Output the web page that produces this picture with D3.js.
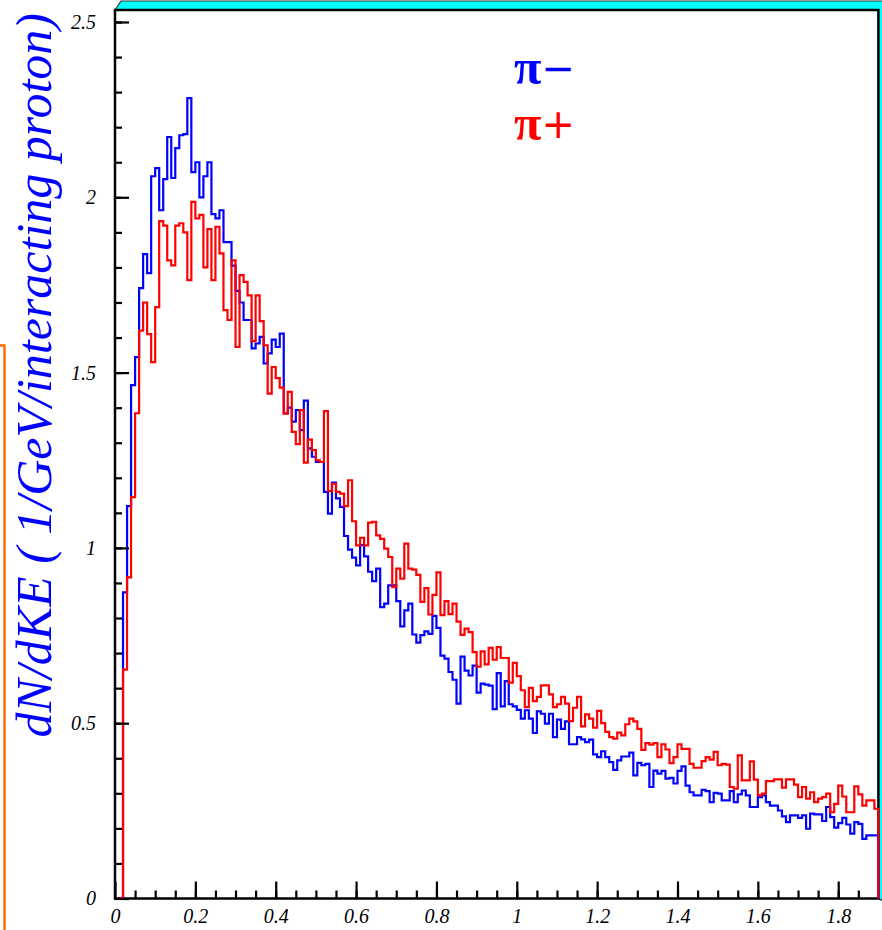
<!DOCTYPE html>
<html>
<head>
<meta charset="utf-8">
<script src="https://cdn.jsdelivr.net/npm/d3@7/dist/d3.min.js"></script>
<style>
body { margin: 0; background: #fff; }
</style>
</head>
<body>
<div id="mainDiv"></div>
<script>
'use strict';

// 190 bins of 0.01 GeV, kinetic energy from 0 to 1.9 GeV
var binStart = 0;
var binWidth = 0.01;

// pi- spectrum (blue)
var piMinus = [
  0, 0, 0.873, 1.119, 1.464, 1.544, 1.741, 1.838, 1.784, 2.06,
  2.083, 1.963, 2.052, 2.172, 2.055, 2.14, 2.177, 2.18, 2.283, 2.072,
  2.1, 2.0, 2.06, 2.1, 1.952, 1.94, 1.963, 1.872, 1.872, 1.805,
  1.733, 1.70, 1.65, 1.65, 1.569, 1.583, 1.602, 1.526, 1.555, 1.594,
  1.573, 1.611, 1.384, 1.40, 1.36, 1.393, 1.336, 1.42, 1.284, 1.26,
  1.245, 1.245, 1.16, 1.098, 1.186, 1.141, 1.117, 1.034, 0.995, 0.972,
  0.95, 1.008, 0.976, 0.932, 0.905, 0.941, 0.831, 0.841, 0.893, 0.893,
  0.848, 0.776, 0.822, 0.841, 0.753, 0.73, 0.751, 0.762, 0.755, 0.806,
  0.772, 0.693, 0.684, 0.646, 0.624, 0.556, 0.69, 0.65, 0.636, 0.664,
  0.587, 0.613, 0.61, 0.607, 0.54, 0.643, 0.548, 0.62, 0.554, 0.548,
  0.538, 0.513, 0.537, 0.513, 0.472, 0.534, 0.527, 0.499, 0.527, 0.46,
  0.51, 0.484, 0.505, 0.44, 0.44, 0.46, 0.454, 0.446, 0.453, 0.411,
  0.403, 0.42, 0.403, 0.389, 0.367, 0.394, 0.405, 0.405, 0.416, 0.351,
  0.387, 0.38, 0.384, 0.318, 0.365, 0.356, 0.364, 0.342, 0.344, 0.328,
  0.364, 0.377, 0.322, 0.303, 0.294, 0.294, 0.31, 0.306, 0.275, 0.301,
  0.299, 0.28, 0.28, 0.306, 0.275, 0.297, 0.308, 0.294, 0.261, 0.261,
  0.289, 0.294, 0.275, 0.265, 0.265, 0.251, 0.234, 0.218, 0.237, 0.237,
  0.23, 0.237, 0.199, 0.242, 0.24, 0.24, 0.221, 0.261, 0.232, 0.202,
  0.215, 0.23, 0.211, 0.185, 0.218, 0.213, 0.17, 0.18, 0.18, 0.18
];

// pi+ spectrum (red)
var piPlus = [
  0, 0, 0.653, 0.916, 1.145, 1.384, 1.62, 1.70, 1.61, 1.53,
  1.687, 1.932, 1.919, 1.82, 1.806, 1.919, 1.926, 1.90, 1.764, 1.987,
  1.94, 1.95, 1.80, 1.909, 1.764, 1.916, 1.84, 1.678, 1.65, 1.82,
  1.573, 1.778, 1.759, 1.72, 1.59, 1.72, 1.647, 1.578, 1.44, 1.516,
  1.484, 1.457, 1.383, 1.445, 1.331, 1.296, 1.393, 1.243, 1.309, 1.279,
  1.25, 1.245, 1.39, 1.162, 1.183, 1.16, 1.155, 1.119, 1.193, 1.076,
  1.007, 1.029, 1.007, 1.072, 1.074, 1.036, 1.026, 0.998, 0.974, 0.888,
  0.941, 0.912, 1.012, 0.941, 0.938, 0.923, 0.846, 0.885, 0.81, 0.866,
  0.93, 0.808, 0.848, 0.811, 0.841, 0.79, 0.752, 0.77, 0.76, 0.703,
  0.661, 0.705, 0.668, 0.715, 0.681, 0.717, 0.686, 0.686, 0.616, 0.672,
  0.634, 0.594, 0.546, 0.601, 0.563, 0.575, 0.608, 0.608, 0.582, 0.546,
  0.554, 0.575, 0.556, 0.506, 0.544, 0.575, 0.491, 0.525, 0.513, 0.487,
  0.535, 0.50, 0.475, 0.46, 0.456, 0.473, 0.465, 0.497, 0.513, 0.505,
  0.484, 0.424, 0.443, 0.439, 0.443, 0.403, 0.44, 0.425, 0.386, 0.403,
  0.44, 0.427, 0.427, 0.384, 0.373, 0.373, 0.392, 0.403, 0.396, 0.418,
  0.38, 0.384, 0.382, 0.318, 0.313, 0.408, 0.337, 0.337, 0.391, 0.339,
  0.294, 0.299, 0.335, 0.335, 0.34, 0.34, 0.316, 0.34, 0.34, 0.325,
  0.289, 0.318, 0.285, 0.303, 0.275, 0.285, 0.289, 0.299, 0.246, 0.27,
  0.322, 0.291, 0.246, 0.246, 0.32, 0.297, 0.265, 0.28, 0.28, 0.256
];

var xTickLabels = [0, 0.2, 0.4, 0.6, 0.8, 1, 1.2, 1.4, 1.6, 1.8];
var yTickLabels = [0, 0.5, 1, 1.5, 2, 2.5];
var legendSymbol = '\u03c0';
var legendSigns = ['\u2212', '+'];
var seriesColors = ['#0000ff', '#ff0000'];
var yTitle = 'dN/dKE ( 1/GeV/interacting proton)';

var myApp = {};

myApp.width = 882;
myApp.height = 930;
myApp.frame = { left: 115, right: 878.4, top: 10, bottom: 898.5 };
myApp.serif = '"Liberation Serif", "Times New Roman", serif';

myApp.xScale = d3.scaleLinear().domain([0, 1.9]).range([myApp.frame.left, myApp.frame.right]);
myApp.yScale = d3.scaleLinear().domain([0, 2.5]).range([myApp.frame.bottom, 22]);

myApp.labelFormat = function (d) {
    return String(+d.toFixed(1));
};

myApp.drawFrame = function (svg) {
    var f = myApp.frame;
    // cyan "3d" border on top and right of the frame
    svg.append('polygon')
        .attr('points', [[f.left, f.top], [f.left + 6, 1], [895, 1], [895, f.bottom + 8], [f.right, f.bottom], [f.right, f.top]].join(' '))
        .attr('fill', '#00ffff')
        .attr('stroke', '#333')
        .attr('stroke-width', 1.2);

    svg.append('rect')
        .attr('x', f.left)
        .attr('y', f.top)
        .attr('width', f.right - f.left)
        .attr('height', f.bottom - f.top)
        .attr('fill', '#fff')
        .attr('stroke', '#000')
        .attr('stroke-width', 2.5);

    // orange line on the far left
    svg.append('path')
        .attr('d', 'M0,345.5 H4.5 V930')
        .attr('fill', 'none')
        .attr('stroke', '#ff6a00')
        .attr('stroke-width', 2.4);
};

myApp.drawAxes = function (svg) {
    var f = myApp.frame;

    var xMinor = d3.axisBottom(myApp.xScale)
        .tickValues(d3.range(0.05, 1.9, 0.05))
        .tickSizeInner(-8).tickSizeOuter(0).tickFormat('');
    var xMajor = d3.axisBottom(myApp.xScale)
        .tickValues(xTickLabels)
        .tickSizeInner(-17).tickSizeOuter(0).tickPadding(10)
        .tickFormat(myApp.labelFormat);

    var yMinor = d3.axisLeft(myApp.yScale)
        .tickValues(d3.range(0.1, 2.51, 0.1))
        .tickSizeInner(-7).tickSizeOuter(0).tickFormat('');
    var yMajor = d3.axisLeft(myApp.yScale)
        .tickValues(yTickLabels)
        .tickSizeInner(-14).tickSizeOuter(0).tickPadding(19)
        .tickFormat(myApp.labelFormat);

    [xMinor, xMajor].forEach(function (ax) {
        svg.append('g').attr('class', 'xAxis')
            .attr('transform', 'translate(0,' + f.bottom + ')')
            .call(ax);
    });
    [yMinor, yMajor].forEach(function (ax) {
        svg.append('g').attr('class', 'yAxis')
            .attr('transform', 'translate(' + f.left + ',0)')
            .call(ax);
    });

    svg.selectAll('.domain').remove();
    svg.selectAll('.tick line').attr('stroke', '#000').attr('stroke-width', 2.2);
    svg.selectAll('.tick text')
        .attr('font-family', myApp.serif)
        .attr('font-style', 'italic')
        .attr('font-size', '20px')
        .attr('fill', '#000');

    svg.append('text')
        .attr('transform', 'translate(51,13) rotate(-90)')
        .attr('text-anchor', 'end')
        .attr('font-family', myApp.serif)
        .attr('font-style', 'italic')
        .attr('font-size', '50px')
        .attr('fill', '#0000ff')
        .text(yTitle);
};

myApp.histPoints = function (values) {
    var pts = values.map(function (v, i) {
        return [binStart + i * binWidth, v];
    });
    var last = values.length;
    pts.push([binStart + last * binWidth, values[last - 1]]);
    pts.push([binStart + last * binWidth, 0]);
    return pts;
};

myApp.drawHistograms = function (svg) {
    var line = d3.line()
        .x(function (d) { return myApp.xScale(d[0]); })
        .y(function (d) { return myApp.yScale(d[1]); })
        .curve(d3.curveStepAfter);

    [piMinus, piPlus].forEach(function (series, k) {
        svg.append('path')
            .datum(myApp.histPoints(series))
            .attr('d', line)
            .attr('fill', 'none')
            .attr('stroke', seriesColors[k])
            .attr('stroke-width', 2.2);
    });
};

myApp.drawLegend = function (svg) {
    var items = svg.selectAll('.legend')
        .data(legendSigns)
        .enter().append('text')
        .attr('class', 'legend')
        .attr('x', 514)
        .attr('y', function (d, i) { return 84 + i * 56; })
        .attr('font-family', myApp.serif)
        .attr('fill', function (d, i) { return seriesColors[i]; });

    items.append('tspan')
        .attr('font-size', '50px')
        .attr('font-weight', 'bold')
        .text(legendSymbol);
    items.append('tspan')
        .attr('font-family', '"DejaVu Sans", sans-serif')
        .attr('font-size', '40px')
        .attr('dy', '-2')
        .text(function (d) { return d; });
};

myApp.run = function () {
    var svg = d3.select('#mainDiv').append('svg')
        .attr('width', myApp.width)
        .attr('height', myApp.height)
        .style('display', 'block');

    myApp.drawFrame(svg);
    myApp.drawHistograms(svg);
    myApp.drawAxes(svg);
    myApp.drawLegend(svg);
};

window.onload = myApp.run;
</script>
</body>
</html>
